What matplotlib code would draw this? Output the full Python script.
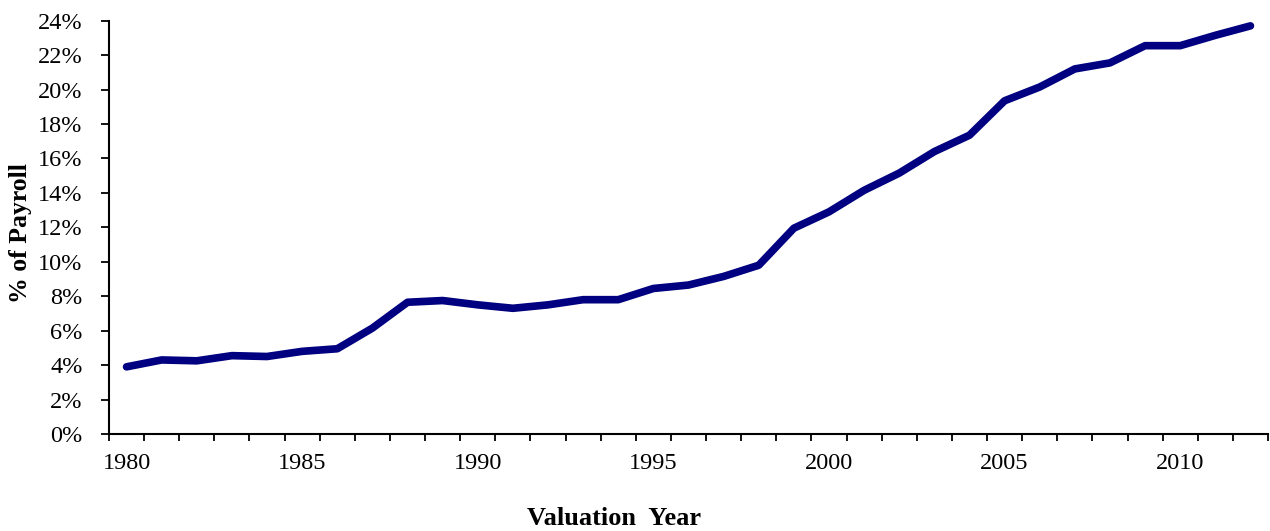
import matplotlib
matplotlib.use('Agg')
import matplotlib.pyplot as plt
from matplotlib.ticker import FixedLocator, FuncFormatter

years = list(range(1980, 2013))
pct_of_payroll = [3.9, 4.3, 4.25, 4.55, 4.5, 4.8, 4.95, 6.15, 7.65, 7.75,
                  7.5, 7.3, 7.5, 7.8, 7.8, 8.45, 8.65, 9.15, 9.8, 11.95,
                  12.9, 14.15, 15.15, 16.4, 17.35, 19.35, 20.15, 21.2, 21.55, 22.55,
                  22.55, 23.15, 23.7]
label_years = [1980, 1985, 1990, 1995, 2000, 2005, 2010]

plt.rcParams['font.family'] = ['Liberation Serif', 'DejaVu Serif']

fig = plt.figure(figsize=(12.7, 5.31), dpi=100)
ax = fig.add_axes([109 / 1270, 1 - 434 / 531, 1159 / 1270, 413.3 / 531])

ax.plot(years, pct_of_payroll, color='#000080', linewidth=5.5,
        solid_capstyle='round', solid_joinstyle='round')

ax.set_xlim(years[0] - 0.5, years[-1] + 0.5)
ax.set_ylim(0, 24)
ax.set_yticks(range(0, 25, 2))
ax.yaxis.set_major_formatter(FuncFormatter(lambda v, p: f"{v:.0f}%"))

# category-style axis: ticks between years, labels on the years
ax.xaxis.set_major_locator(FixedLocator([y - 0.5 for y in years] + [years[-1] + 0.5]))
ax.xaxis.set_major_formatter(FuncFormatter(lambda v, p: ""))
ax.xaxis.set_minor_locator(FixedLocator(label_years))
ax.xaxis.set_minor_formatter(FuncFormatter(lambda v, p: f"{v:.0f}"))
ax.tick_params(axis='x', which='minor', length=0, labelsize=17.5, pad=14)
ax.tick_params(axis='x', which='major', length=5, width=1.3, direction='out')
ax.tick_params(axis='y', length=6, width=1.3, direction='out', labelsize=17.5, pad=13)

for side in ('top', 'right'):
    ax.spines[side].set_visible(False)
for side in ('left', 'bottom'):
    ax.spines[side].set_linewidth(1.5)

ax.set_ylabel("% of Payroll", fontsize=18.5, fontweight='bold')
ax.yaxis.set_label_coords(-0.0664, 0.486)
fig.text(614 / 1270, 1 - 518.5 / 531, "Valuation  Year", fontsize=19,
         fontweight='bold', ha='center', va='center')

fig.savefig('out.png', dpi=100)
